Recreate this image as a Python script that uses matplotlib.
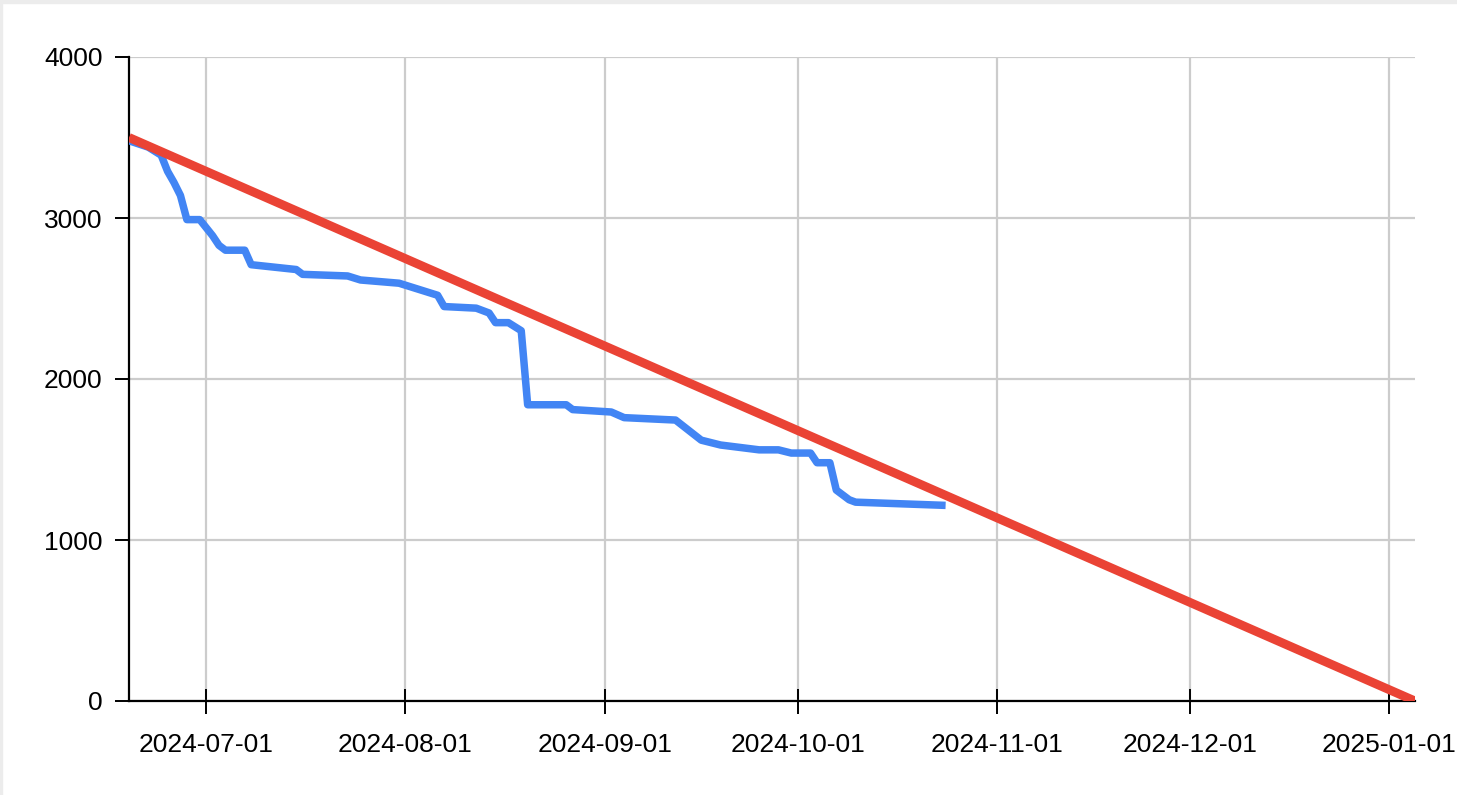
"""
Burndown chart — remaining work vs. ideal line.
"""

import matplotlib
matplotlib.use("Agg")
import matplotlib.pyplot as plt
import matplotlib.dates as mdates
import numpy as np
from matplotlib.patches import Rectangle

plt.rcParams["font.family"] = ["Liberation Sans", "DejaVu Sans"]

# =============================================================================
# Data
# =============================================================================

actual_dates = [
    "2024-06-19", "2024-06-22", "2024-06-24", "2024-06-25", "2024-06-26",
    "2024-06-27", "2024-06-28", "2024-06-30", "2024-07-02", "2024-07-03",
    "2024-07-04", "2024-07-07", "2024-07-08", "2024-07-15", "2024-07-16",
    "2024-07-23", "2024-07-25", "2024-07-31", "2024-08-06", "2024-08-07",
    "2024-08-12", "2024-08-14", "2024-08-15", "2024-08-17", "2024-08-19",
    "2024-08-20", "2024-08-26", "2024-08-27", "2024-09-02", "2024-09-04",
    "2024-09-12", "2024-09-16", "2024-09-19", "2024-09-23", "2024-09-25",
    "2024-09-28", "2024-09-30", "2024-10-03", "2024-10-04", "2024-10-06",
    "2024-10-07", "2024-10-09", "2024-10-10", "2024-10-24",
]
actual_remaining = [
    3480, 3440, 3390, 3290, 3220,
    3140, 2990, 2990, 2890, 2830,
    2800, 2800, 2710, 2680, 2650,
    2640, 2615, 2595, 2520, 2450,
    2440, 2410, 2350, 2350, 2300,
    1840, 1840, 1810, 1795, 1760,
    1745, 1620, 1590, 1570, 1560,
    1560, 1540, 1540, 1480, 1480,
    1310, 1250, 1235, 1215,
]

ideal_dates     = ["2024-06-19", "2025-01-05"]
ideal_remaining = [3500, 0]

month_ticks = ["2024-07-01", "2024-08-01", "2024-09-01", "2024-10-01",
               "2024-11-01", "2024-12-01", "2025-01-01"]
y_ticks = [0, 1000, 2000, 3000, 4000]

x_start, x_end = "2024-06-19", "2025-01-05"

# =============================================================================
# Plot
# =============================================================================

to_dt = lambda xs: np.array(xs, dtype="datetime64[D]")

fig = plt.figure(figsize=(14.57, 7.95), dpi=100)
ax = fig.add_axes([129 / 1457, 94 / 795, 1286 / 1457, 644 / 795])

# light frame strip on top / left edge like the screenshot
fig.patches.append(Rectangle((0, 1 - 3 / 795), 1, 3 / 795, transform=fig.transFigure,
                             color="#ececec", zorder=0))
fig.patches.append(Rectangle((0, 0), 2 / 1457, 1, transform=fig.transFigure,
                             color="#ececec", zorder=0))

ax.plot(to_dt(actual_dates), actual_remaining, color="#4285F4",
        linewidth=5.4, solid_joinstyle="round", solid_capstyle="butt", zorder=3)
ax.plot(to_dt(ideal_dates), ideal_remaining, color="#EA4335",
        linewidth=6.4, solid_capstyle="butt", zorder=4)

ax.set_xlim(to_dt([x_start])[0], to_dt([x_end])[0])
ax.set_ylim(0, 4000)
ax.set_xticks(to_dt(month_ticks))
ax.xaxis.set_major_formatter(mdates.DateFormatter("%Y-%m-%d"))
ax.set_yticks(y_ticks)

ax.grid(True, color="#cccccc", linewidth=1.6, zorder=0)
ax.set_axisbelow(True)

for side in ("top", "right"):
    ax.spines[side].set_visible(False)
for side in ("left", "bottom"):
    ax.spines[side].set_linewidth(1.6)
    ax.spines[side].set_color("black")

ax.tick_params(axis="x", direction="inout", length=18, width=1.4,
               labelsize=19, pad=14, colors="black")
ax.tick_params(axis="y", direction="out", length=10, width=1.4,
               labelsize=19, pad=9, colors="black")

fig.savefig("out.png", dpi=100)
print("Saved: out.png")
